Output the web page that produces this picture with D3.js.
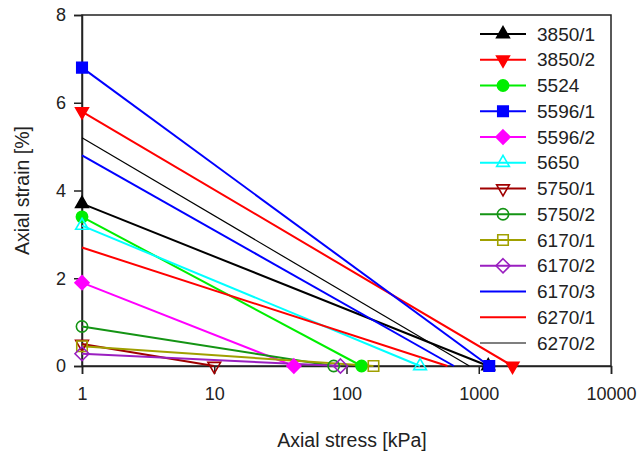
<!DOCTYPE html>
<html><head><meta charset="utf-8">
<script src="https://cdn.jsdelivr.net/npm/d3@7"></script>
<style>body{margin:0;background:#fff}svg{display:block}text{font-family:"Liberation Sans",Arial,sans-serif;fill:#222}</style>
</head><body><svg id="c" width="640" height="454"></svg>
<script>
// Data
const samples = ["3850/1","3850/2","5524","5596/1","5596/2","5650","5750/1","5750/2","6170/1","6170/2","6170/3","6270/1","6270/2"];
const startStress = [1,1,1,1,1,1,1,1,1,1,1,1,1];          // kPa
const startStrain = [3.7,5.8,3.4,6.8,1.9,3.2,0.5,0.9,0.45,0.28,4.8,2.7,5.2]; // %
const endStress   = [1180,1800,130,1200,40,360,10,80,160,90,650,580,850];    // kPa
const endStrain   = [0,0,0,0,0,0,0,0,0,0,0,0,0];          // %
const xTicks = [1,10,100,1000,10000];
const yTicks = [0,2,4,6,8];

// Styles
const colors = ["#000000","#ff0000","#00ee00","#0000ff","#ff00ff","#00ffff","#a00000","#149414","#a0a000","#9a1fc0","#0000ff","#ff0000","#000000"];
const markers = ["triUp","triDown","circle","square","diamond","triUp","triDown","circle","square","diamond",null,null,null];
const filled = [true,true,true,true,true,false,false,false,false,false,false,false,false];
const widths = [2,2,2,2,2,2,2,2,2,2,2,2,1.2];

const svg = d3.select("#c");
const m = {l:82, r:611, t:15, b:366};
const x = d3.scaleLog().domain([1,10000]).range([m.l,m.r]);
const y = d3.scaleLinear().domain([0,8]).range([m.b,m.t]);

function markerPath(type){
  switch(type){
    case "triUp": return d3.symbol(d3.symbolTriangle, 70)();
    case "triDown": return d3.symbol(d3.symbolTriangle, 70)();
    case "circle": return d3.symbol(d3.symbolCircle, 100)();
    case "square": return d3.symbol(d3.symbolSquare, 110)();
    case "diamond": return "M0,-7L7,0L0,7L-7,0Z";
  }
}
function drawMarker(g, i, cx, cy){
  const t = markers[i];
  if(!t) return;
  g.append("path").attr("d", markerPath(t))
    .attr("transform", `translate(${cx},${cy})` + (t==="triDown" ? " rotate(180)" : ""))
    .attr("stroke", colors[i]).attr("stroke-width", 1.6)
    .attr("fill", filled[i] ? colors[i] : "none");
}

// Frame
svg.append("rect").attr("x",m.l).attr("y",m.t).attr("width",m.r-m.l).attr("height",m.b-m.t)
  .attr("fill","none").attr("stroke","#222").attr("stroke-width",1.5);

// Axes
const xa = svg.append("g").attr("transform",`translate(0,${m.b})`)
  .call(d3.axisBottom(x).tickValues(xTicks).tickFormat(d3.format("d")).tickSize(8).tickPadding(13));
const ya = svg.append("g").attr("transform",`translate(${m.l},0)`)
  .call(d3.axisLeft(y).tickValues(yTicks).tickSize(8).tickPadding(8));
[xa,ya].forEach(a=>{
  a.select(".domain").attr("stroke","#222").attr("stroke-width",1.5);
  a.selectAll(".tick line").attr("stroke","#222").attr("stroke-width",1.5);
  a.selectAll(".tick text").attr("font-size",18).attr("fill","#222").style("font-family","'Liberation Sans',Arial,sans-serif");
});

svg.append("text").attr("x",352).attr("y",447).attr("text-anchor","middle").attr("font-size",19.5).text("Axial stress [kPa]");
svg.append("text").attr("transform",`translate(29,${(m.t+m.b)/2}) rotate(-90)`).attr("text-anchor","middle").attr("font-size",19.5).text("Axial strain [%]");

// Series
const lineGen = d3.line().x(d=>x(d[0])).y(d=>y(d[1]));
const order = d3.range(samples.length);
order.forEach(i=>{
  const pts = [[startStress[i],startStrain[i]],[endStress[i],endStrain[i]]];
  svg.append("path").attr("d",lineGen(pts)).attr("fill","none")
    .attr("stroke",colors[i]).attr("stroke-width",widths[i]);
});
order.forEach(i=>{
  const g = svg.append("g");
  drawMarker(g,i,x(startStress[i]),y(startStrain[i]));
  drawMarker(g,i,x(endStress[i]),y(endStrain[i]));
});

// Legend
const lg = svg.append("g");
samples.forEach((s,i)=>{
  const ry = 34 + i*25.75;
  lg.append("line").attr("x1",480).attr("x2",526).attr("y1",ry).attr("y2",ry)
    .attr("stroke",colors[i]).attr("stroke-width",widths[i]);
  drawMarker(lg,i,503,ry);
  lg.append("text").attr("x",537).attr("y",ry+6.5).attr("font-size",19).text(s);
});
</script></body></html>
